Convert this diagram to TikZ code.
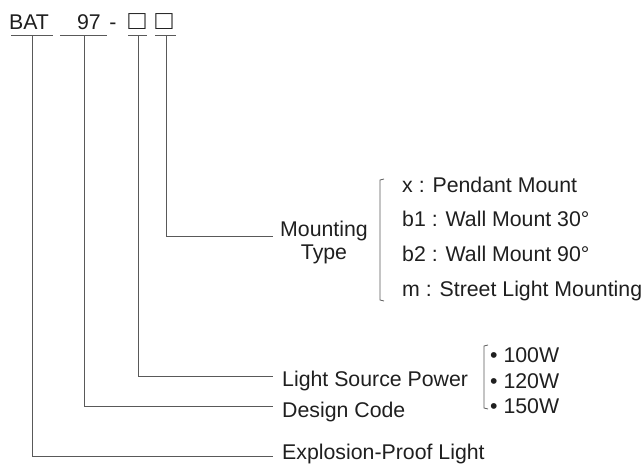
\documentclass[tikz,border=0pt]{standalone}
\usepackage{fontspec}
\setmainfont{Liberation Sans}
\begin{document}
\begin{tikzpicture}[x=1pt,y=-1pt,
  txt/.style={inner sep=0pt,text=black!88,font=\fontsize{21.3}{24}\selectfont},
  ln/.style={draw=black!65,line width=0.9pt},
  brk/.style={draw=black!65,line width=0.8pt}]
\useasboundingbox (0,0) rectangle (643,467);
% code parts
\node[txt,anchor=base] (bat) at (29,29) {BAT};
\node[txt,anchor=base] (nn) at (89,29) {97};
\node[txt,anchor=base] (dash) at (113,29) {-};
\node[txt,anchor=base] (bx1) at (137,29) {\scalebox{1.35}[1.25]{□}};
\node[txt,anchor=base] (bx2) at (164,29) {\scalebox{1.35}[1.25]{□}};
% underlines
\draw[ln] (11,35) -- (53,35);
\draw[ln] (60,35) -- (107,35);
\draw[ln] (128,35) -- (147,35);
\draw[ln] (155,35) -- (176,35);
\coordinate (sbat) at (32,35);
\coordinate (snn) at (84,35);
\coordinate (sb1) at (138,35);
\coordinate (sb2) at (166,35);
% labels
\node[txt,align=center,anchor=base] (mt) at (324,259) {Mounting\\[-1pt]Type};
\node[txt,anchor=base west] (lsp) at (282,386) {Light Source Power};
\node[txt,anchor=base west] (dc) at (282,417) {Design Code};
\node[txt,anchor=base west] (epl) at (282,459) {Explosion-Proof Light};
\coordinate (emt) at (273,236);
\coordinate (elsp) at (273,376);
\coordinate (edc) at (273,406);
\coordinate (eepl) at (273,456);
% connectors
\draw[ln] (sb2) |- (emt);
\draw[ln] (sb1) |- (elsp);
\draw[ln] (snn) |- (edc);
\draw[ln] (sbat) |- (eepl);
% mounting list
\node[txt,anchor=base west] (m1) at (402,192) {x : Pendant Mount};
\node[txt,anchor=base west] (m2) at (402,226) {b1 : Wall Mount 30°};
\node[txt,anchor=base west] (m3) at (402,261) {b2 : Wall Mount 90°};
\node[txt,anchor=base west] (m4) at (402,296) {m : Street Light Mounting};
\draw[brk] (384,179) -- (380,180) -- (380,300) -- (384,301);
% power list
\node[txt,anchor=base west] (p1) at (490,362) {• 100W};
\node[txt,anchor=base west] (p2) at (490,388) {• 120W};
\node[txt,anchor=base west] (p3) at (490,413) {• 150W};
\draw[brk] (488,345) -- (484,346) -- (484,408) -- (488,409);
\end{tikzpicture}
\end{document}
